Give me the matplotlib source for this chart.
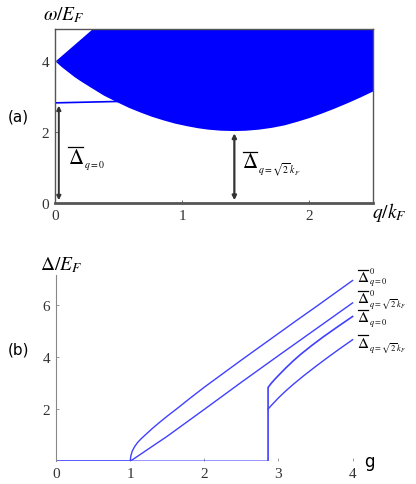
import numpy as np
import matplotlib.pyplot as plt
from matplotlib.transforms import ScaledTranslation

plt.rcParams['mathtext.fontset'] = 'stix'

# ---- panel (a): excitation continuum ----
q_low = [0, 0.05, 0.1, 0.15, 0.2, 0.28, 0.38, 0.48, 0.58, 0.67, 0.76, 0.85, 0.94, 1.03, 1.12,
         1.2, 1.3, 1.41, 1.5, 1.6, 1.7, 1.8, 1.9, 2.0, 2.1, 2.2, 2.3, 2.4, 2.5]
w_low = [4.0, 3.84, 3.7, 3.56, 3.44, 3.26, 3.04, 2.86, 2.69, 2.56, 2.44, 2.34, 2.25, 2.18, 2.12,
         2.08, 2.05, 2.04, 2.05, 2.08, 2.13, 2.2, 2.3, 2.41, 2.54, 2.68, 2.83, 2.99, 3.16]
q_up = [0, 0.1, 0.2, 0.29, 2.5]
w_up = [4.0, 4.31, 4.62, 4.9, 4.9]
q_bound = [0, 0.25, 0.5]
w_bound = [2.82, 2.84, 2.86]
gap_q0 = 2.82
gap_qs = 2.04
q_star = 1.41

# ---- panel (b): gaps vs coupling g ----
g_top = [0, 1.0, 1.01, 1.03, 1.06, 1.1, 1.15, 1.2, 1.3, 1.4, 1.5, 1.65, 1.8, 2.0, 2.25,
         2.5, 2.75, 3.0, 3.25, 3.5, 3.75, 4.0]
d_top = [0, 0, 0.22, 0.4, 0.56, 0.72, 0.87, 1.0, 1.26, 1.5, 1.73, 2.06, 2.4, 2.84, 3.36,
         3.88, 4.39, 4.9, 5.41, 5.91, 6.42, 6.93]
g_top2 = [0, 1.0, 1.5, 2.0, 2.5, 3.0, 3.5, 4.0]
d_top2 = [0, 0, 0.96, 1.99, 3.03, 4.05, 5.06, 6.07]
g_q0 = [0, 2.86, 2.86, 2.9, 2.95, 3.0, 3.1, 3.2, 3.3, 3.45, 3.6, 3.8, 4.0]
d_q0 = [0, 0, 2.83, 2.98, 3.14, 3.29, 3.58, 3.85, 4.1, 4.44, 4.76, 5.16, 5.55]
g_qs = [2.86, 2.9, 3.0, 3.1, 3.2, 3.35, 3.5, 3.65, 3.8, 4.0]
d_qs = [2.0, 2.13, 2.43, 2.7, 2.95, 3.3, 3.63, 3.95, 4.26, 4.66]

blue = '#0000ff'
lineblue = '#4040ff'
gray = '#555555'
serif = 'Liberation Serif'


##### label Delta-bar avec indice (et exposant) #####
def gapLabel(ax, x, y, sub, sup=None, big=14, small=7, dsub=-5, dsup=6, gap=1.2):
    w = 0.68 * big        # largeur approx du Delta, en points
    h = 0.34 * big        # demi-hauteur du Delta
    ax.text(x, y, r'$\Delta$', fontsize=big, va='center', ha='left', clip_on=False)
    trans = ax.figure.dpi_scale_trans + ScaledTranslation(x, y, ax.transData)
    ax.plot([0.5 / 72, (w + 0.5) / 72], [(h + gap) / 72, (h + gap) / 72],
            color='black', lw=0.9, transform=trans, clip_on=False)
    ax.annotate(sub, xy=(x, y), xytext=(w + 1.2, dsub), textcoords='offset points',
                fontsize=small, va='center', ha='left', annotation_clip=False)
    if sup is not None:
        ax.annotate(sup, xy=(x, y), xytext=(w + 1.2, dsup), textcoords='offset points',
                    fontsize=small, va='center', ha='left', annotation_clip=False)


fig = plt.figure(figsize=(4.16, 4.85), dpi=100)

##### panel a
ax1 = fig.add_axes([55/416, 1-204/485, 318/416, 174/485])
qq = np.linspace(0, 2.5, 400)
lo = np.interp(qq, q_low, w_low)
hi = np.interp(qq, q_up, w_up)
ax1.fill_between(qq, lo, hi, color=blue, lw=0)
ax1.plot(q_bound, w_bound, color=blue, lw=1.2)
ax1.annotate('', xy=(0.03, gap_q0), xytext=(0.03, 0),
             arrowprops=dict(arrowstyle='<|-|>', color='#333333', lw=1.4, mutation_scale=6))
ax1.annotate('', xy=(q_star, gap_qs), xytext=(q_star, 0),
             arrowprops=dict(arrowstyle='<|-|>', color='#333333', lw=1.6, mutation_scale=6))
gapLabel(ax1, 0.1, 1.3, r'$q=0$', big=15, small=7, dsub=-5.5, gap=1.8)
gapLabel(ax1, 1.47, 1.17, r'$q=\sqrt{2}\,k_F$', big=15, small=7, dsub=-5.5, gap=1.8)
ax1.set_xlim(0, 2.5)
ax1.set_ylim(0, 4.9)
ax1.set_xticks([0, 1, 2])
ax1.set_yticks([0, 2, 4])
for s in ax1.spines.values():
    s.set_color(gray)
    s.set_linewidth(1.0)
ax1.spines['bottom'].set_linewidth(2)
ax1.tick_params(direction='in', length=2, width=0.6, colors=gray, labelsize=11, pad=4)
for lab in ax1.get_xticklabels() + ax1.get_yticklabels():
    lab.set_family(serif)
    lab.set_color('#333333')
fig.text(43/416, 1-15/485, r'$\omega/E_F$', fontsize=14, va='center')
fig.text(372/416, 1-212/485, r'$q/k_F$', fontsize=14, va='center')
fig.text(8/416, 1-117/485, '(a)', fontsize=11, va='center')

##### panel b
ax2 = fig.add_axes([56/416, 1-462.3/485, 304/416, 186.3/485])
ax2.plot(g_top, d_top, color=lineblue, lw=1.0)
ax2.plot(g_top2, d_top2, color=lineblue, lw=1.0)
ax2.plot(g_q0, d_q0, color=lineblue, lw=1.2)
ax2.plot(g_qs, d_qs, color=lineblue, lw=1.0)
ax2.set_xlim(0, 4.1)
ax2.set_ylim(0, 7.14)
ax2.set_xticks([0, 1, 2, 3, 4])
ax2.set_yticks([2, 4, 6])
for k in ['top', 'right', 'bottom']:
    ax2.spines[k].set_visible(False)
ax2.spines['left'].set_color('#888888')
ax2.tick_params(direction='in', length=2, width=0.6, colors='#888888', labelsize=11, pad=4)
for lab in ax2.get_xticklabels() + ax2.get_yticklabels():
    lab.set_family(serif)
    lab.set_color('#333333')
subs_b = [r'$q=0$', r'$q=\sqrt{2}\,k_F$', r'$q=0$', r'$q=\sqrt{2}\,k_F$']
sups_b = [r'$0$', r'$0$', None, None]
label_y = [7.09, 6.27, 5.54, 4.57]
for sb, sp, yy in zip(subs_b, sups_b, label_y):
    gapLabel(ax2, 4.06, yy, sb, sp, big=11, small=6, dsub=-3.6, dsup=4.2, gap=1.0)
fig.text(40/416, 1-265/485, r'$\Delta/E_F$', fontsize=14, va='center')
fig.text(364/416, 1-462/485, 'g', fontsize=12, va='center')
fig.text(8/416, 1-350/485, '(b)', fontsize=11, va='center')

fig.savefig('out.png', dpi=100)
